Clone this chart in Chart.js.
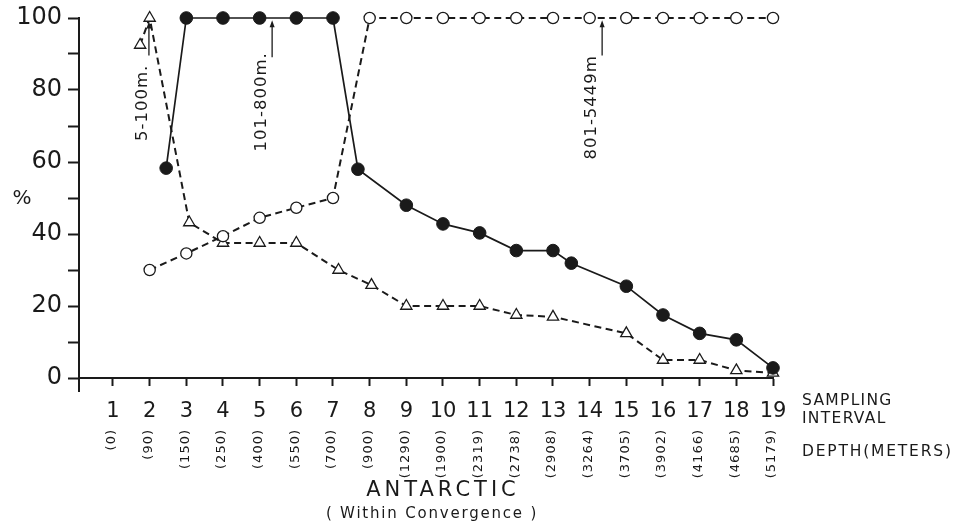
<!DOCTYPE html>
<html>
<head>
<meta charset="utf-8">
<script src="https://cdn.jsdelivr.net/npm/chart.js@4.4.1/dist/chart.umd.min.js"></script>
<style>
  html, body { margin: 0; padding: 0; background: #fff; }
  #wrap { width: 957px; height: 526px; position: relative; }
</style>
</head>
<body>
<div id="wrap"><canvas id="chart"></canvas></div>
<script>
// Sampling intervals and the depth (m) at which each was taken
const intervals = [1, 2, 3, 4, 5, 6, 7, 8, 9, 10, 11, 12, 13, 14, 15, 16, 17, 18, 19];
const depths = ['(0)', '(90)', '(150)', '(250)', '(400)', '(550)', '(700)', '(900)', '(1290)', '(1900)',
                '(2319)', '(2738)', '(2908)', '(3264)', '(3705)', '(3902)', '(4166)', '(4685)', '(5179)'];

// 101-800 m (filled circles)
const midX = [2.45, 3, 4, 5, 6, 7, 7.68, 9, 10, 11, 12, 13, 13.5, 15, 16, 17, 18, 19];
const midY = [58.3, 100, 100, 100, 100, 100, 58, 48, 42.8, 40.3, 35.4, 35.4, 31.9, 25.5, 17.5, 12.4, 10.6, 2.8];

// 801-5449 m (open circles)
const deepX = [2, 3, 4, 5, 6, 7, 8, 9, 10, 11, 12, 13, 14, 15, 16, 17, 18, 19];
const deepY = [30, 34.6, 39.4, 44.5, 47.3, 50, 100, 100, 100, 100, 100, 100, 100, 100, 100, 100, 100, 100];

// 5-100 m (open triangles)
const shallowX = [1.74, 2, 3.08, 4, 5, 6, 7.15, 8.05, 9, 10, 11, 12, 13, 15, 16, 17, 18, 19];
const shallowY = [92.5, 100, 43.2, 37.5, 37.5, 37.5, 30, 25.8, 20, 20, 20, 17.5, 17, 12.4, 5, 5, 2.1, 1.4];

// Depth-range callouts: arrow x, arrow tip / tail, and where the label ends
const calloutText = ['5-100m.', '101-800m.', '801-5449m'];
const calloutX = [1.98, 5.34, 14.34];
const calloutTip = [99.0, 99.4, 99.4];
const calloutTail = [89.6, 89.1, 89.6];
const calloutTextX = [1.82, 5.06, 14.06];
const calloutTextTop = [87.0, 90.5, 89.7];

const X_MIN = 0.073;
const INK = '#1a1a1a';
const FONT = '"DejaVu Sans", "Noto Sans", sans-serif';

const pts = (xs, ys) => xs.map((v, i) => ({ x: v, y: ys[i] }));

function drawText(ctx, text, x, y, size, spacing, align, baseline, angle) {
  ctx.save();
  ctx.font = size + 'px ' + FONT;
  ctx.letterSpacing = spacing + 'px';
  ctx.fillStyle = INK;
  ctx.textAlign = align;
  ctx.textBaseline = baseline;
  ctx.translate(x, y);
  if (angle) ctx.rotate(angle);
  ctx.fillText(text, 0, 0);
  ctx.restore();
}

const decorations = {
  id: 'decorations',
  afterDraw(chart) {
    const { ctx, chartArea: ca } = chart;
    const xs = chart.scales.x, ys = chart.scales.y;
    ctx.save();
    // vertical axis continues a little below the origin
    ctx.strokeStyle = INK;
    ctx.lineWidth = 2;
    ctx.beginPath();
    ctx.moveTo(ca.left, ca.bottom);
    ctx.lineTo(ca.left, ca.bottom + 14);
    ctx.stroke();

    // depth under each sampling interval, written upward
    depths.forEach((d, i) => {
      const px = xs.getPixelForValue(intervals[i]);
      drawText(ctx, d, px - 1, ca.bottom + 51, 13, 1, 'right', 'middle', -Math.PI / 2);
    });

    // callouts with arrows
    calloutText.forEach((t, i) => {
      const ax = xs.getPixelForValue(calloutX[i]);
      const tip = ys.getPixelForValue(calloutTip[i]);
      const tail = ys.getPixelForValue(calloutTail[i]);
      ctx.strokeStyle = INK;
      ctx.fillStyle = INK;
      ctx.lineWidth = 1.3;
      ctx.beginPath();
      ctx.moveTo(ax, tail);
      ctx.lineTo(ax, tip + 5);
      ctx.stroke();
      ctx.beginPath();
      ctx.moveTo(ax, tip);
      ctx.lineTo(ax - 2.5, tip + 7);
      ctx.lineTo(ax + 2.5, tip + 7);
      ctx.closePath();
      ctx.fill();
      drawText(ctx, t, xs.getPixelForValue(calloutTextX[i]), ys.getPixelForValue(calloutTextTop[i]),
               16.5, 1, 'right', 'middle', -Math.PI / 2);
    });

    // axis captions
    drawText(ctx, '%', 22, 199, 20, 0, 'center', 'middle', 0);
    drawText(ctx, 'SAMPLING', ca.right + 29, 401, 15.5, 1.3, 'left', 'middle', 0);
    drawText(ctx, 'INTERVAL', ca.right + 29, 419, 15.5, 1.3, 'left', 'middle', 0);
    drawText(ctx, 'DEPTH(METERS)', ca.right + 29, 452, 15.5, 1.8, 'left', 'middle', 0);
    drawText(ctx, 'ANTARCTIC', 443, 491, 21, 4, 'center', 'middle', 0);
    drawText(ctx, '( Within Convergence )', 432, 514, 15, 1.8, 'center', 'middle', 0);
    ctx.restore();
  }
};

new Chart(document.getElementById('chart'), {
  type: 'line',
  data: {
    datasets: [
      {
        label: '101-800m.',
        data: pts(midX, midY),
        borderColor: INK,
        borderWidth: 1.7,
        pointStyle: 'circle',
        pointRadius: 6.3,
        pointBackgroundColor: INK,
        pointBorderColor: INK,
        pointBorderWidth: 1,
        tension: 0,
        clip: false
      },
      {
        label: '801-5449m',
        data: pts(deepX, deepY),
        borderColor: INK,
        borderWidth: 2,
        borderDash: [7, 4.5],
        pointStyle: 'circle',
        pointRadius: 5.6,
        pointBackgroundColor: '#fff',
        pointBorderColor: INK,
        pointBorderWidth: 1.3,
        tension: 0,
        clip: false
      },
      {
        label: '5-100m.',
        data: pts(shallowX, shallowY),
        borderColor: INK,
        borderWidth: 2,
        borderDash: [7, 4.5],
        pointStyle: 'triangle',
        pointRadius: 6.5,
        pointBackgroundColor: '#fff',
        pointBorderColor: INK,
        pointBorderWidth: 1.3,
        tension: 0,
        clip: false
      }
    ]
  },
  options: {
    responsive: true,
    maintainAspectRatio: false,
    animation: false,
    events: [],
    layout: { padding: { left: 0, right: 184, top: 12, bottom: 0 } },
    plugins: { legend: { display: false }, tooltip: { enabled: false } },
    scales: {
      x: {
        type: 'linear',
        min: X_MIN,
        max: 19,
        afterBuildTicks: (s) => { s.ticks = intervals.map(v => ({ value: v })); },
        afterFit: (s) => { s.height = 148; },
        grid: { drawOnChartArea: false, drawTicks: true, tickLength: 8, tickWidth: 2, tickColor: INK },
        border: { display: true, color: INK, width: 2 },
        ticks: {
          autoSkip: false,
          maxRotation: 0,
          padding: 13,
          color: INK,
          font: { family: FONT, size: 21 },
          callback: (v) => String(v)
        }
      },
      y: {
        min: 0,
        max: 100,
        afterFit: (s) => { s.width = 79; },
        grid: { drawOnChartArea: false, drawTicks: true, tickLength: 11, tickWidth: 2, tickColor: INK },
        border: { display: true, color: INK, width: 2 },
        ticks: {
          stepSize: 10,
          padding: 6,
          color: INK,
          font: { family: FONT, size: 24, lineHeight: 1 },
          callback: (v) => (v % 20 === 0 ? String(v) : '')
        }
      }
    }
  },
  plugins: [decorations]
});
</script>
</body>
</html>
